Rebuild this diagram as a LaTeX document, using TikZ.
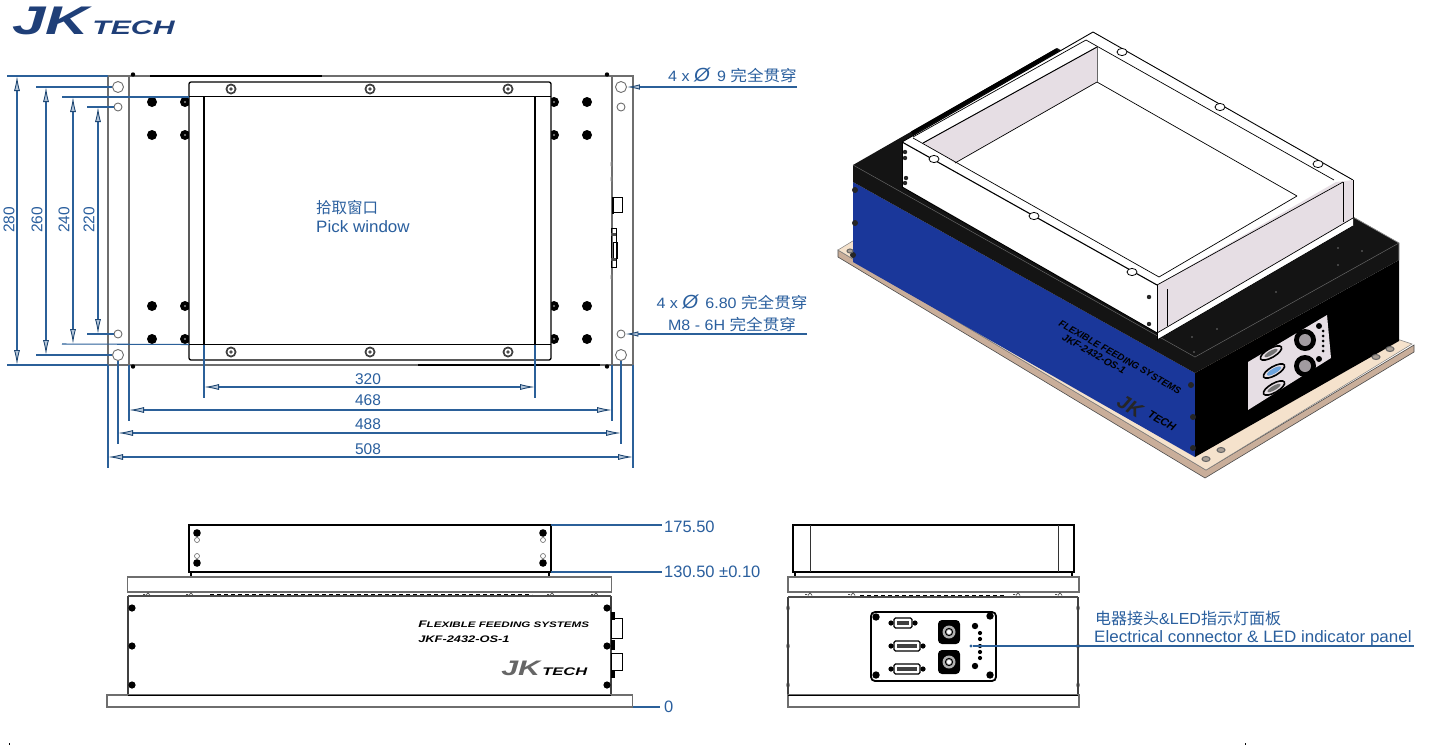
\documentclass[tikz,border=0pt]{standalone}
\usepackage{fontspec}
\setmainfont{Liberation Sans}
\newfontfamily\cjk{Noto Sans CJK SC}
\usetikzlibrary{arrows.meta,calc}
\definecolor{dimblue}{HTML}{2B6099}
\definecolor{txtblue}{HTML}{2A5F9E}
\definecolor{navy}{HTML}{1F3F78}
\definecolor{plategray}{HTML}{6E6E6E}
\definecolor{lilac}{HTML}{E6DEE4}
\definecolor{tan}{HTML}{F5E2CC}
\definecolor{tandark}{HTML}{C9AE9A}
\definecolor{panelblue}{HTML}{1A379A}
\newcommand{\fs}[1]{\fontsize{#1}{#1}\selectfont}
\tikzset{
  headtip/.tip={Latex[length=15pt,width=6pt,line width=0.9pt,color=dimblue!75!black,fill=dimblue!35]},
  dimline/.style={draw=dimblue,line width=1.05pt},
  dimarrow/.style={dimline,{headtip}-{headtip}},
  leadarrow/.style={dimline,-{Latex[length=13pt,width=5.5pt,line width=0.9pt,color=dimblue!75!black,fill=dimblue!35]}},
  lab/.style={text=txtblue,inner sep=0pt,font=\fs{15.5}},
  cad/.style={draw=black,line width=1.3pt},
  plate/.style={draw=plategray,line width=1.2pt},
  hole/.style={circle,draw=plategray,fill=white,line width=0.9pt,minimum size=#1,inner sep=0pt},
  edge3d/.style={draw=black,line width=0.7pt,line join=round},
  logotxt/.style={inner sep=0pt,anchor=base west},
}
\newcommand{\ringscrew}[1]{\fill[black!75] (#1) circle (5.5pt); \fill[white] (#1) circle (3.5pt); \fill[black!70] (#1) circle (1.8pt);}
\newcommand{\blk}[2]{\fill[black] (#1) circle (#2pt);}
\newcommand{\dia}{{\fontsize{19}{19}\itshape\selectfont Ø}}
\begin{document}
\begin{tikzpicture}[x=1pt,y=-1pt]
\useasboundingbox (0,0) rectangle (1450,745);
\fill[white] (0,0) rectangle (1450,745);

% ---------- logo
\node[logotxt,xscale=1.5,text=navy,font=\fs{40}\bfseries\itshape] (logoJK) at (12,34) {JK};
\node[logotxt,xscale=1.55,text=navy,font=\fs{19.5}\bfseries\itshape] (logoT) at (92,34) {TECH};

% ---------- front plan view
\draw[plate] (108,76) rectangle (633,365);
\draw[plate] (129,76) -- (129,365);
\draw[plate] (612,76) -- (612,365);
\draw[black,line width=1.4pt] (150,76) -- (322,76);
\draw[black,line width=1.4pt] (418,365) -- (600,365);
\fill[black] (133,74.5) circle (2.2pt);
\fill[black] (607,74.5) circle (2.2pt);
\fill[black] (133,366.5) circle (2.2pt);
\fill[black] (607,366.5) circle (2.2pt);
\node[hole=11pt] (h1) at (118,87) {};
\node[hole=8pt] (h2) at (118,107) {};
\node[hole=8pt] (h3) at (118,334) {};
\node[hole=11pt] (h4) at (118,355) {};
\node[hole=11pt] (h5) at (621,87) {};
\node[hole=8pt] (h6) at (621,107) {};
\node[hole=8pt] (h7) at (621,334) {};
\node[hole=11pt] (h8) at (621,355) {};
% black screws
\foreach \x in {152,587}\foreach \y in {102,135,306,339}{\blk{\x,\y}{5}}
\foreach \x in {185,554}\foreach \y in {102,135,306,339}{\blk{\x,\y}{5}\fill[black!45] (\x,\y) circle (1.2pt);}
% window
\draw[cad,fill=white,rounded corners=2pt] (189,82) rectangle (551,360);
\draw[cad] (189,96.5) -- (551,96.5);
\draw[cad] (189,344.5) -- (551,344.5);
\draw[cad] (204,96.5) -- (204,344.5);
\draw[cad] (535,96.5) -- (535,344.5);
\foreach \x in {231,370,508}{\ringscrew{\x,89}\ringscrew{\x,352}}
% side connectors on plan
\draw[black,line width=1pt] (612,197) rectangle (622,212);
\fill[black] (612,197) rectangle (614,214);
\draw[black,line width=0.9pt] (611,228) rectangle (616,267);
\draw[black,line width=0.8pt] (613,242) rectangle (617,258);
\fill[black!70] (611,233) rectangle (616,236);
\fill[black!70] (611,258) rectangle (616,261);
\foreach \y in {164,179,277}{\fill[black!50] (611.5,\y) ellipse (1pt and 3pt);}
% pick window label
\node[lab,anchor=base west,font=\fs{15.5}\cjk] (pick1) at (316,213) {拾取窗口};
\node[lab,anchor=base west,font=\fs{16.5},xscale=1.03] (pick2) at (316,232) {Pick window};

% ---------- vertical dimensions
\coordinate (v280t) at (17,76); \coordinate (v280b) at (17,365);
\coordinate (v260t) at (46,87); \coordinate (v260b) at (46,355);
\coordinate (v240t) at (73,97); \coordinate (v240b) at (73,344);
\coordinate (v220t) at (98,107); \coordinate (v220b) at (98,334);
\coordinate (e280a) at (7,76); \coordinate (e280c) at (7,365);
\coordinate (e260a) at (36,87); \coordinate (e260c) at (36,355);
\coordinate (e240a) at (62,97); \coordinate (e240c) at (62,344);
\coordinate (e220a) at (87,107); \coordinate (e220c) at (87,334);
\draw[dimline] (e280a) -- (108,76); \draw[dimline] (e280c) -- (108,365);
\draw[dimline] (e260a) -- (h1); \draw[dimline] (e260c) -- (h4);
\draw[dimline] (e240a) -- (189,97); \draw[dimline] (e240c) -- (189,344.5);
\draw[dimline] (e220a) -- (h2); \draw[dimline] (e220c) -- (h3);
\draw[dimarrow] (v280t) -- (v280b);
\draw[dimarrow] (v260t) -- (v260b);
\draw[dimarrow] (v240t) -- (v240b);
\draw[dimarrow] (v220t) -- (v220b);
\node[lab,rotate=90] (t280) at (9,220) {280};
\node[lab,rotate=90] (t260) at (37,220) {260};
\node[lab,rotate=90] (t240) at (64,220) {240};
\node[lab,rotate=90] (t220) at (89,220) {220};

% ---------- horizontal dimensions
\draw[dimline] (204,345) -- (204,398);
\draw[dimline] (535,345) -- (535,398);
\draw[dimline] (129,365) -- (129,421);
\draw[dimline] (612,365) -- (612,421);
\draw[dimline] (h4) -- (118,444);
\draw[dimline] (h8) -- (621,444);
\draw[dimline] (108,365) -- (108,468);
\draw[dimline] (633,365) -- (633,468);
\coordinate (d320a) at (204,387); \coordinate (d320b) at (535,387);
\coordinate (d468a) at (129,410); \coordinate (d468b) at (612,410);
\coordinate (d488a) at (118,433); \coordinate (d488b) at (621,433);
\coordinate (d508a) at (108,457); \coordinate (d508b) at (633,457);
\draw[dimarrow] (d320a) -- (d320b);
\draw[dimarrow] (d468a) -- (d468b);
\draw[dimarrow] (d488a) -- (d488b);
\draw[dimarrow] (d508a) -- (d508b);
\node[lab] (t320) at (368,379) {320};
\node[lab] (t468) at (368,400.5) {468};
\node[lab] (t488) at (368,424) {488};
\node[lab] (t508) at (368,449) {508};

% ---------- hole leaders
\coordinate (l1) at (797,87);
\coordinate (l2) at (807,334);
\draw[leadarrow] (l1) -- (h5);
\draw[leadarrow] (l2) -- (h7);
\node[lab,font=\fs{15},anchor=base,xscale=1.07] (n1) at (732.5,81) {4 x \dia\ \,9 {\cjk\fs{15.5}完全贯穿}};
\node[lab,font=\fs{15},anchor=base,xscale=1.07] (n2) at (732,308) {4 x \dia\ \,6.80 {\cjk\fs{15.5}完全贯穿}};
\node[lab,font=\fs{15},anchor=base,xscale=1.07] (n3) at (732,330) {M8 - 6H {\cjk\fs{15.5}完全贯穿}};

% ---------- side elevation
\draw[cad,fill=white] (189,525) rectangle (551,572);
\draw[cad] (191,572) -- (191,578);
\draw[cad] (549,572) -- (549,578);
\foreach \x in {197,543}{\blk{\x,533}{3.8}\blk{\x,563}{3.8}
 \draw[black!60,line width=0.6pt,fill=white] (\x,540) circle (2.5pt);
 \draw[black!60,line width=0.6pt,fill=white] (\x,556) circle (2.5pt);}
\draw[plate,line width=1.3pt] (127.5,577) rectangle (611.5,592);
\draw[black!75,line width=1.3pt] (128,596) -- (128,694);
\draw[black!75,line width=1.3pt] (611,596) -- (611,694);
\draw[black!70,line width=1.3pt] (128,596) -- (611,596);
\draw[black,line width=1pt,dash pattern=on 4pt off 3pt] (210,594.5) -- (532,594.5);
\foreach \x in {146,189,550,594}{\draw[black!70,line width=0.7pt] (\x-3,594.5) -- (\x-1,594.5) (\x+2,592.5)--(\x,595.5) (\x+2,592.5)--(\x+4,595.5);}
\foreach \x in {132,607}\foreach \y in {608,646,685}{\blk{\x,\y}{3.6}}
\draw[black,line width=1pt] (611,618) rectangle (622,638);
\draw[black,line width=1pt] (611,653) rectangle (622,670);
\fill[black] (611,612) rectangle (615,620);
\fill[black] (611,640) rectangle (615,650);
\fill[black] (611,670) rectangle (615,678);
\node[inner sep=0pt,anchor=base west,xscale=1.45,font=\fs{9.5}\bfseries\itshape] (sf) at (418,627) {F\fs{8}LEXIBLE F\fs{8}EEDING S\fs{8}YSTEMS};
\node[inner sep=0pt,anchor=base west,xscale=1.35,font=\fs{9.5}\bfseries\itshape] (sm) at (418,642) {JKF-2432-OS-1};
\node[logotxt,xscale=1.45,text=black!60,font=\fs{21}\bfseries\itshape] (sJK) at (501,675) {JK};
\node[logotxt,xscale=1.5,font=\fs{11}\bfseries\itshape] (sT) at (542,675) {TECH};
\draw[plate,line width=1.4pt,fill=white] (107,695) rectangle (632.5,707);
\draw[black,line width=1pt] (128,695) -- (611,695);

% elevation leaders
\coordinate (e1a) at (551,525); \coordinate (e1b) at (662,525);
\coordinate (e2a) at (551,572); \coordinate (e2b) at (662,572);
\coordinate (e3a) at (633,707); \coordinate (e3b) at (660,707);
\draw[dimline] (e1a) -- (e1b);
\draw[dimline] (e2a) -- (e2b);
\draw[dimline] (e3a) -- (e3b);
\node[lab,anchor=west,font=\fs{16.5}] (t175) at (664,527) {175.50};
\node[lab,anchor=west,font=\fs{16.5}] (t130) at (664,572) {130.50 ±0.10};
\node[lab,anchor=west,font=\fs{16.5}] (t0) at (664,707) {0};

% ---------- end elevation
\draw[cad,fill=white] (793,525) rectangle (1074,572);
\draw[black!80,line width=1pt] (810,525) -- (810,572);
\draw[black!80,line width=1pt] (1058,525) -- (1058,572);
\draw[cad] (795,572) -- (795,577);
\draw[cad] (1072,572) -- (1072,577);
\draw[plate,line width=1.3pt] (788,577) rectangle (1079,592);
\draw[black!75,line width=1.3pt] (788,597) -- (788,695);
\draw[black!75,line width=1.3pt] (1078,597) -- (1078,695);
\draw[black!70,line width=1.3pt] (788,597) -- (1078,597);
\draw[black,line width=1pt,dash pattern=on 4pt off 3pt] (860,595) -- (1005,595);
\foreach \x in {808,851,1016,1058}{\draw[black!70,line width=0.7pt] (\x-3,594.5) -- (\x-1,594.5) (\x+2,592.5)--(\x,595.5) (\x+2,592.5)--(\x+4,595.5);}
\foreach \x in {788,1078}\foreach \y in {608,646,685}{\fill[black!75] (\x,\y) ellipse (1.6pt and 3pt);}
\draw[plate,line width=1.4pt,fill=white] (788,695) rectangle (1079,707);
\draw[black,line width=1pt] (788,695) -- (1078,695);
% panel
\draw[black,line width=1.8pt,fill=white,rounded corners=4pt] (871,612) rectangle (996,681);
\foreach \p in {{876,617},{990,616},{876,675},{990,675}}{\fill[black] (\p) circle (3.7pt);}
% connectors
\newcommand{\dsub}[3]{%
 \fill[black] (#1-#3-3,#2) circle (2.6pt) (#1+#3+3,#2) circle (2.6pt);
 \draw[black,line width=1.3pt,fill=white,rounded corners=1.5pt] (#1-#3,#2-5) rectangle (#1+#3,#2+5);
 \fill[black!75] (#1-#3+3,#2-2) rectangle (#1+#3-3,#2+2);}
\dsub{903}{623}{9}
\dsub{907}{646}{13}
\dsub{907}{669}{13}
\foreach \y in {632,662}{
 \fill[black,rounded corners=4pt] (938,\y-12) rectangle (960,\y+12);
 \fill[black!30] (949,\y) circle (6.5pt);
 \draw[black,line width=1pt] (949,\y) circle (3.6pt);
 \fill[white] (949,\y) circle (2pt);}
\fill[black] (975,626) circle (3.2pt);
\fill[black] (975,666) circle (3.2pt);
\foreach \y in {633,639,646,652,658}{\fill[black] (980,\y) circle (2.1pt);}
% panel leader
\node[circle,fill=dimblue,inner sep=0pt,minimum size=3.4pt] (pdot) at (971,646) {};
\coordinate (pend) at (1414,646);
\draw[dimline] (pdot) -- (pend);
\node[lab,anchor=base west,font=\fs{16}] (c1) at (1095,624) {{\cjk 电器接头}\&LED{\cjk 指示灯面板}};
\node[lab,anchor=base west,font=\fs{16.5},xscale=1.03] (c2) at (1094,642) {Electrical connector \& LED indicator panel};

% ---------- isometric view
% base plate
\draw[draw=black!70,line width=0.6pt,fill=tandark] (838,257) -- (1205,478) -- (1414,352) -- (1414,345) -- (1206,470) -- (838,250) -- cycle;
\fill[tan,draw=black!50,line width=0.5pt] (838,250) -- (856,239) -- (1400,340) -- (1412,344) -- (1206,470) -- cycle;
% blue side
\fill[panelblue] (853,182) -- (1195,373) -- (1195,457) -- (853,262) -- cycle;
% black front + top
\fill[black] (1195,373) -- (1399,260) -- (1399,341) -- (1195,457) -- cycle;
\fill[black!92] (853,165) -- (1057,48) -- (1399,243) -- (1399,260) -- (1195,373) -- (853,182) -- cycle;
\draw[black!45,line width=0.7pt] (1353,217) -- (1399,243) -- (1399,260);
\draw[black!60,line width=0.5pt] (853,165) -- (1195,357) -- (1399,243);
% blue edge screws
\foreach \p in {{855,190},{855,223},{853,255},{1191,385},{1193,417},{1193,448}}{\fill[black!85] (\p) circle (3pt);}
% plate holes
\foreach \p in {{1206,459},{1221,450},{1376,357},{1390,349}}{\draw[black!60,line width=1pt,fill=tan!60!black!80] (\p) ellipse (4pt and 2.5pt);}
\draw[black!60,line width=1pt,fill=tan!60!black!80] (850,251) ellipse (3pt and 2pt);
% dots on black top
\foreach \p in {{1192,337},{1217,329},{1194,352},{1316,237},{1338,248},{1362,251},{1338,265},{1276,292}}{\fill[black!55] (\p) circle (0.9pt);}
% hopper box
\coordinate (A) at (1093,32);
\coordinate (B) at (1353,180);
\coordinate (C) at (1157,285);
\coordinate (D) at (902,142);
\coordinate (Bb) at (1353,218);
\coordinate (Cb) at (1157,333);
\coordinate (Db) at (902,187);
% interior: floor white, back wall lilac
\fill[white] (A) -- (B) -- (Bb) -- (Cb) -- (Db) -- (D) -- cycle;
\fill[lilac] (1097,47) -- (1097,82) -- (955,163) -- (923,143) -- cycle;
\draw[edge3d] (1097,82) -- (955,163);
\draw[edge3d] (1097,82) -- (1297,196);
\draw[edge3d,draw=black!60] (1097,47) -- (1097,82);
% outer
\draw[edge3d,line width=0.9pt] (D) -- (A) -- (B);
\draw[edge3d] (913,137) -- (1086,40) -- (1334,180);
\draw[edge3d,line width=1pt] (923,143) -- (1097,47);
% front left strip
\fill[white] (D) -- (C) -- (Cb) -- (Db) -- cycle;
\draw[edge3d,line width=1.1pt] (D) -- (C);
\draw[edge3d] (913,138) -- (1159,277);
\draw[edge3d,line width=1.1pt] (Db) -- (Cb);
\draw[edge3d] (D) -- (Db);
% right face (lilac)
\fill[lilac] (C) -- (1336,182) -- (B) -- (Bb) -- (Cb) -- cycle;
\draw[edge3d] (C) -- (1343,182);
\draw[edge3d] (1159,277) -- (1297,196);
\draw[edge3d] (1167,289) -- (1167,326);
\draw[edge3d] (C) -- (Cb);
\draw[edge3d] (1343,182) -- (1343,222);
\draw[edge3d] (B) -- (Bb);
\fill[white] (Cb) -- (Bb) -- (1353,226) -- (1157,340) -- cycle;
\draw[edge3d] (Cb) -- (Bb);
\draw[edge3d] (1157,340) -- (1353,226);
\draw[edge3d] (Cb) -- (1157,340);
% strip screws
\foreach \p in {{1122,52},{1220,107},{1318,164},{934,159},{1034,216},{1132,272}}{\draw[black,line width=0.8pt,fill=white] (\p) ellipse (5pt and 3.6pt);}
\foreach \p in {{905,152},{905,158},{906,178},{905,183},{1149,297},{1149,324}}{\fill[black!85] (\p) circle (2.2pt);}
% back black rail
\draw[black,line width=3.5pt] (1057,50) -- (912,133);
% panel in iso
\fill[black] (1244,363) -- (1331,310) -- (1335,362) -- (1244,414) -- cycle;
\fill[lilac] (1248,362) -- (1327,315) -- (1331,358) -- (1248,410) -- cycle;
\foreach \p in {{1271,353},{1274,371},{1274,388}}{
 \draw[black,line width=1.6pt,fill=lilac,rotate around={30:(\p)}] (\p) ellipse (12pt and 4.5pt);
 \fill[black!55,rotate around={30:(\p)}] (\p) ellipse (7.5pt and 2.2pt);}
\fill[cyan!60!blue!60,rotate around={30:(1274,371)}] (1274,371) ellipse (8pt and 2.5pt);
\foreach \p in {{1305,340},{1305,366}}{\fill[black] (\p) circle (11pt);\fill[black!30!lilac] (\p) circle (6pt);}
\foreach \p in {{1319,326},{1319,359}}{\fill[black] (\p) circle (3pt);}
\foreach \p in {{1323,331},{1323,336},{1323,341},{1323,346},{1323,351}}{\fill[black] (\p) circle (1.5pt);}
% text on blue
\node[inner sep=0pt,rotate=-29.7,font=\fs{9.5}\bfseries\itshape] (isoT) at (1120,357) {FLEXIBLE FEEDING SYSTEMS};
\node[inner sep=0pt,rotate=-29.7,font=\fs{10}\bfseries\itshape] (isoM) at (1094,354) {JKF-2432-OS-1};
\node[inner sep=0pt,rotate=-29.7,font=\fs{20}\bfseries\itshape,text=black!85] (isoJ) at (1130,406) {JK};
\node[inner sep=0pt,rotate=-29.7,font=\fs{11}\bfseries\itshape] (isoTT) at (1162,421) {TECH};

% corner ticks
\draw[black,line width=0.7pt] (9,743) -- (9,745);
\draw[black,line width=0.7pt] (1245,743) -- (1245,745);
\end{tikzpicture}
\end{document}
